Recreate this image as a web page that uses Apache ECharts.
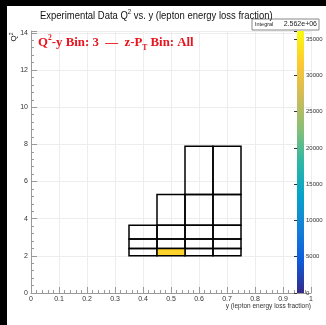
<!DOCTYPE html>
<html><head><meta charset="utf-8">
<script src="https://cdn.jsdelivr.net/npm/echarts@6/dist/echarts.min.js"></script>
<style>html,body{margin:0;padding:0;background:#fff}#c{width:326px;height:325px}</style>
</head><body><div id="c"></div>
<script>
// ---- data ----
const yBinEdges = [0.35, 0.45, 0.55, 0.65, 0.75];          // x: y (lepton energy loss fraction)
const q2BinEdges = [2.0, 2.4, 2.9, 3.65, 5.3, 7.9];          // y: Q^2
// counts per Q2 row (bottom to top) and y column; null = bin not defined
const binCounts = [
  [0, 32500, 0, 0],
  [0, 0, 0, 0],
  [0, 0, 0, 0],
  [null, 0, 0, 0],
  [null, null, 0, 0]
];
const xTickLabels = ['0', '0.1', '0.2', '0.3', '0.4', '0.5', '0.6', '0.7', '0.8', '0.9', '1'];
const yTickLabels = ['0', '2', '4', '6', '8', '10', '12', '14'];
const zTickLabels = ['0', '5000', '10000', '15000', '20000', '25000', '30000', '35000'];
const zMax = 36100;
const integralText = '2.562e+06';
const birdColors = ['#352a87', '#0f5cdd', '#1481d6', '#06a4ca', '#2eb7a4', '#87bf77', '#d1bb59', '#fec832', '#f9fb0e'];

// ---- build cells ----
const cells = [];
binCounts.forEach((row, r) => {
  row.forEach((v, c) => {
    if (v === null) return;
    cells.push([yBinEdges[c], yBinEdges[c + 1], q2BinEdges[r], q2BinEdges[r + 1], v]);
  });
});
cells.sort((a, b) => a[4] - b[4]);

function labelFrom(list) {
  return v => {
    const s = String(Math.round(v * 1000) / 1000);
    return list.indexOf(s) >= 0 ? s : '';
  };
}

const chart = echarts.init(document.getElementById('c'), null, { renderer: 'canvas' });
const axisCol = '#9a9a9a';
const font = 'Liberation Sans';
chart.setOption({
  animation: false,
  backgroundColor: '#fff',
  grid: [
    { left: 31, right: 15, top: 31, bottom: 32 },
    { left: 297, width: 7, top: 31, bottom: 32 }
  ],
  xAxis: [
    {
      type: 'value', gridIndex: 0, min: 0, max: 1, interval: 0.1,
      axisLine: { show: true, lineStyle: { color: axisCol, width: 1 } },
      axisTick: { show: true, inside: true, length: 6, lineStyle: { color: axisCol } },
      minorTick: { show: true, splitNumber: 5, length: 3, lineStyle: { color: axisCol } },
      axisLabel: { fontSize: 7, color: '#333', margin: 3, fontFamily: font, formatter: labelFrom(xTickLabels), showMinLabel: true, showMaxLabel: true },
      splitLine: { show: true, lineStyle: { color: '#ededed', width: 1 } }
    },
    { type: 'value', gridIndex: 1, min: 0, max: 1, show: false }
  ],
  yAxis: [
    {
      type: 'value', gridIndex: 0, min: 0, max: 14.1, interval: 2,
      axisLine: { show: true, lineStyle: { color: axisCol, width: 1 } },
      axisTick: { show: true, inside: true, length: 6, lineStyle: { color: axisCol } },
      minorTick: { show: true, splitNumber: 5, length: 3, lineStyle: { color: axisCol } },
      axisLabel: { fontSize: 7, color: '#333', margin: 3, fontFamily: font, formatter: labelFrom(yTickLabels) },
      splitLine: { show: true, lineStyle: { color: '#ededed', width: 1 } }
    },
    {
      type: 'value', gridIndex: 1, min: 0, max: zMax, interval: 5000, position: 'right',
      axisLine: { show: false },
      axisTick: { show: true, inside: true, length: 3, lineStyle: { color: '#333' } },
      axisLabel: { fontSize: 6, color: '#333', margin: 2, fontFamily: font, formatter: labelFrom(zTickLabels) },
      splitLine: { show: false }
    }
  ],
  visualMap: {
    type: 'continuous', show: false, min: 0, max: zMax, dimension: 4, seriesIndex: 0,
    inRange: { color: birdColors }
  },
  series: [
    {
      type: 'custom', xAxisIndex: 0, yAxisIndex: 0, data: cells,
      encode: { x: [0, 1], y: [2, 3] },
      renderItem: (params, api) => {
        const p0 = api.coord([api.value(0), api.value(3)]);
        const p1 = api.coord([api.value(1), api.value(2)]);
        const v = api.value(4);
        return {
          type: 'rect',
          shape: { x: p0[0], y: p0[1], width: p1[0] - p0[0], height: p1[1] - p0[1] },
          style: { fill: v > 0 ? api.visual('color') : 'none', stroke: '#000', lineWidth: 1.5 }
        };
      }
    },
    {
      type: 'custom', xAxisIndex: 1, yAxisIndex: 1, data: [[0, 0]], silent: true,
      renderItem: (params, api) => {
        const p0 = api.coord([0, zMax]);
        const p1 = api.coord([1, 0]);
        return {
          type: 'rect',
          shape: { x: p0[0], y: p0[1], width: p1[0] - p0[0], height: p1[1] - p0[1] },
          style: {
            fill: new echarts.graphic.LinearGradient(0, 1, 0, 0,
              birdColors.map((c, i) => ({ offset: i / (birdColors.length - 1), color: c })))
          }
        };
      }
    }
  ],
  graphic: [
    { type: 'rect', left: 0, top: 0, shape: { width: 7, height: 325 }, style: { fill: '#000' }, z: 100 },
    { type: 'rect', left: 0, top: 0, shape: { width: 326, height: 6 }, style: { fill: '#000' }, z: 100 },
    {
      type: 'text', x: 40, y: 16, z: 50,
      style: {
        text: '{a|Experimental Data Q}{s|2}{a| vs. y (lepton energy loss fraction)}',
        rich: {
          a: { fontSize: 11, fontFamily: font, fill: '#111', lineHeight: 14 },
          s: { fontSize: 7, fontFamily: font, fill: '#111', verticalAlign: 'top', lineHeight: 14 }
        },
        textVerticalAlign: 'middle'
      },
      scaleX: 0.86
    },
    {
      type: 'group', z: 60,
      children: [
        { type: 'rect', shape: { x: 252, y: 19, width: 67, height: 11 }, style: { fill: '#fff', stroke: '#888', lineWidth: 1 } },
        { type: 'text', x: 255, y: 24.5, style: { text: 'Integral', fontSize: 5.5, fontFamily: font, fill: '#222', textVerticalAlign: 'middle' } },
        { type: 'text', x: 317, y: 24.5, style: { text: integralText, fontSize: 7, fontFamily: font, fill: '#222', textAlign: 'right', textVerticalAlign: 'middle' } }
      ]
    },
    {
      type: 'text', x: 38, y: 43, z: 50,
      style: {
        text: '{r|Q}{rs|2}{r|-y Bin: 3  —  z-P}{rb|T}{r| Bin: All}',
        rich: {
          r: { fontSize: 13.5, fontFamily: 'Liberation Serif', fontWeight: 'bold', fill: '#e8141e', lineHeight: 18 },
          rs: { fontSize: 8, fontFamily: 'Liberation Serif', fontWeight: 'bold', fill: '#e8141e', verticalAlign: 'top', lineHeight: 18 },
          rb: { fontSize: 8, fontFamily: 'Liberation Serif', fontWeight: 'bold', fill: '#e8141e', verticalAlign: 'bottom', lineHeight: 18 }
        },
        textVerticalAlign: 'middle'
      },
      scaleX: 0.95
    },
    {
      type: 'text', x: 14, y: 37, rotation: Math.PI / 2, z: 50,
      style: {
        text: '{a|Q}{s|2}',
        rich: {
          a: { fontSize: 8, fontFamily: font, fill: '#222', lineHeight: 10 },
          s: { fontSize: 5, fontFamily: font, fill: '#222', verticalAlign: 'top', lineHeight: 10 }
        },
        textAlign: 'center', textVerticalAlign: 'middle'
      }
    },
    {
      type: 'text', x: 311, y: 306, z: 50,
      style: { text: 'y (lepton energy loss fraction)', fontSize: 6.5, fontFamily: font, fill: '#333', textAlign: 'right', textVerticalAlign: 'middle' }
    }
  ]
});
</script>
</body></html>
